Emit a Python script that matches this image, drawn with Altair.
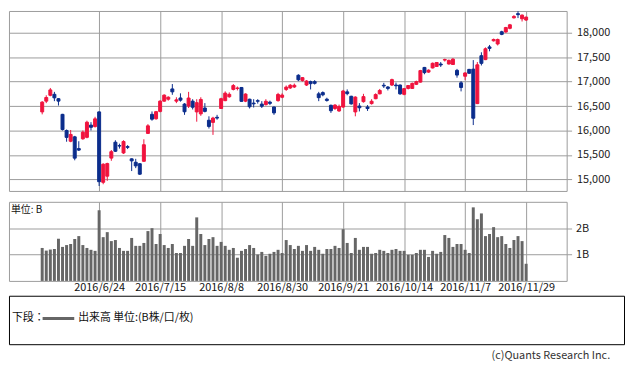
import altair as alt
import pandas as pd

# ---- data ----
dates = ["6/6","6/7","6/8","6/9","6/10","6/13","6/14","6/15","6/16","6/17","6/20","6/21","6/22","6/23","6/24",
         "6/27","6/28","6/29","6/30","7/1","7/4","7/5","7/6","7/7","7/8","7/11","7/12","7/13","7/14","7/15",
         "7/19","7/20","7/21","7/22","7/25","7/26","7/27","7/28","7/29","8/1","8/2","8/3","8/4","8/5","8/8",
         "8/9","8/10","8/12","8/15","8/16","8/17","8/18","8/19","8/22","8/23","8/24","8/25","8/26","8/29","8/30",
         "8/31","9/1","9/2","9/5","9/6","9/7","9/8","9/9","9/12","9/13","9/14","9/15","9/16","9/20","9/21",
         "9/23","9/26","9/27","9/28","9/29","9/30","10/3","10/4","10/5","10/6","10/7","10/11","10/12","10/13","10/14",
         "10/17","10/18","10/19","10/20","10/21","10/24","10/25","10/26","10/27","10/28","10/31","11/1","11/2","11/4","11/7",
         "11/8","11/9","11/10","11/11","11/14","11/15","11/16","11/17","11/18","11/21","11/22","11/24","11/25","11/28","11/29"]

opens = [16380,16600,16720,16740,16650,16330,16000,15780,15870,15630,15830,15860,16110,16080,16380,
         14940,15065,15435,15760,15690,15540,15670,15420,15350,15320,15370,15940,16330,16240,16390,
         16600,16640,16850,16600,16665,16540,16500,16600,16380,16340,16460,16210,16165,16270,16450,
         16610,16690,16840,16860,16880,16600,16640,16560,16610,16540,16530,16580,16480,16610,16680,
         16840,16870,16890,17130,17020,16930,17000,17000,16750,16775,16640,16515,16450,16400,16480,
         16790,16700,16380,16500,16590,16480,16550,16650,16750,16925,16890,16930,16930,16930,16740,
         16860,16860,16945,16990,17290,17195,17280,17310,17360,17440,17360,17350,17230,16975,17110,
         17250,17255,16550,17530,17450,17710,17835,17770,18020,18015,18090,18305,18390,18285,18260]
highs = [16600,16720,16870,16790,16660,16340,16020,16010,15890,15780,16000,16200,16170,16280,16390,
         15330,15340,15600,15800,15730,15800,15700,15430,15420,15330,15820,16130,16390,16400,16620,
         16740,16700,16950,16680,16760,16560,16790,16640,16640,16680,16560,16290,16280,16320,16670,
         16800,16780,16950,16900,16890,16760,16650,16640,16640,16600,16640,16610,16490,16770,16760,
         16920,16950,16960,17150,17090,17030,17020,17030,16790,16800,16670,16530,16540,16530,16830,
         16840,16710,16700,16560,16750,16520,16640,16760,16850,16975,16910,17060,16980,16940,16870,
         16930,16980,17020,17240,17300,17250,17390,17400,17400,17470,17450,17480,17260,17010,17190,
         17260,17440,17400,17600,17700,17750,17880,17880,18040,18120,18180,18360,18440,18375,18330]
lows = [16330,16560,16700,16600,16510,16000,15770,15760,15390,15580,15810,15840,16000,16060,14864,
        14900,14970,15380,15560,15630,15520,15620,15170,15230,15090,15360,15930,16200,16220,16370,
        16590,16610,16730,16560,16590,16320,16460,16430,16180,16300,16370,16040,15910,16220,16440,
        16600,16670,16820,16820,16590,16580,16450,16470,16550,16460,16510,16520,16320,16590,16660,
        16810,16850,16870,17010,17000,16910,16840,16940,16600,16700,16590,16360,16420,16380,16460,
        16720,16530,16290,16390,16570,16400,16530,16640,16740,16870,16820,16910,16840,16730,16720,
        16840,16850,16930,16980,17150,17180,17270,17300,17300,17410,17350,17340,17080,16800,17030,
        17160,16111,16540,17330,17440,17620,17820,17740,17950,18000,18070,18290,18300,18230,18240]
closes = [16580,16675,16830,16668,16601,16019,15859,15919,15434,15599,15965,16169,16065,16238,14952,
          15309,15323,15566,15575,15682,15775,15655,15378,15276,15106,15708,16095,16231,16385,16600,
          16723,16681,16790,16627,16620,16383,16664,16476,16569,16635,16391,16083,16254,16254,16650,
          16764,16740,16919,16869,16596,16745,16486,16545,16598,16497,16597,16555,16360,16737,16725,
          16887,16926,16925,17037,17081,17012,16958,16965,16672,16729,16614,16405,16519,16492,16807,
          16754,16544,16683,16465,16693,16449,16598,16735,16819,16910,16860,17040,16915,16750,16856,
          16920,16963,17000,17225,17184,17234,17375,17391,17340,17452,17435,17460,17134,16880,17177,
          17171,16251,17344,17374,17672,17680,17862,17862,17967,18106,18162,18333,18370,18360,18320]
volumes = [1.25,1.15,1.19,1.21,1.60,1.29,1.36,1.40,1.59,1.70,
           1.36,1.25,1.18,1.14,2.68,1.66,1.85,1.51,1.55,1.25,
           1.14,1.14,1.63,1.33,1.33,1.44,1.89,2.00,1.40,1.78,
           1.36,1.25,1.40,1.06,1.06,1.33,1.59,1.33,2.41,1.78,
           1.36,1.59,1.66,1.33,1.48,1.33,1.18,1.25,0.88,1.14,
           1.21,1.36,1.25,1.00,1.10,0.95,1.03,1.10,1.18,1.06,
           1.55,1.36,1.21,1.33,1.14,1.36,1.14,1.29,1.18,1.03,
           1.21,1.21,1.33,1.25,1.96,1.44,1.06,1.63,1.18,1.29,
           1.29,1.03,1.06,1.18,1.14,1.06,1.18,1.21,1.14,1.14,
           0.99,0.99,1.06,1.18,1.18,0.91,1.14,1.03,1.10,1.74,
           1.63,1.29,1.40,1.40,1.18,1.06,2.79,2.34,2.56,1.70,
           1.78,2.04,1.66,1.70,1.40,1.25,1.55,1.70,1.51,0.65]
tick_labels = ["2016/6/24","2016/7/15","2016/8/8","2016/8/30","2016/9/21","2016/10/14","2016/11/7","2016/11/29"]
price_ticks = [15000,15500,16000,16500,17000,17500,18000]
vol_ticks = [1, 2]
unit_label = "単位: B"
legend_prefix = "下段："
legend_label = "出来高 単位:(B株/口/枚)"
credit = "(c)Quants Research Inc."

# ---- table ----
df = pd.DataFrame({"i": list(range(len(dates))), "date": dates, "open": opens, "high": highs,
                   "low": lows, "close": closes, "volume": volumes})
df["dir"] = ["up" if c >= o else "down" for o, c in zip(opens, closes)]
tick_idx = [dates.index(t.split("/", 1)[1]) for t in tick_labels]
label_expr = "[" + ",".join("'%s'" % t for t in tick_labels) + "][indexof(" + str(tick_idx) + ", datum.value)]"

FONT = "Noto Sans CJK JP"
GRID = "#9c9c9c"
RED = "#F0133E"
BLUE = "#0B2D8C"
W = 564

xscale = alt.Scale(domain=[-6.95, 127.75], nice=False, zero=False)
pscale = alt.Scale(domain=[14763, 18445], nice=False, zero=False)
dir_scale = alt.Scale(domain=["up", "down"], range=[RED, BLUE])

x_axis_up = alt.Axis(values=tick_idx, labels=False, ticks=False, domain=False, grid=True,
                     gridColor=GRID, title=None)
p_axis = alt.Axis(orient="right", values=price_ticks, format=",d", grid=True, gridColor=GRID,
                  domain=False, tickColor=GRID, tickSize=5, labelPadding=5, labelFont=FONT,
                  labelFontSize=11, labelColor="#1a1a1a", labelOverlap=False, title=None)

base = alt.Chart(df)
wick = base.mark_rule(strokeWidth=1).encode(
    x=alt.X("i:Q", scale=xscale, axis=x_axis_up),
    y=alt.Y("low:Q", scale=pscale, axis=p_axis), y2="high:Q",
    color=alt.Color("dir:N", scale=dir_scale, legend=None))
body = base.mark_bar(size=3, strokeWidth=1).encode(
    x=alt.X("i:Q", scale=xscale, axis=x_axis_up),
    y=alt.Y("open:Q", scale=pscale, axis=p_axis), y2="close:Q",
    color=alt.Color("dir:N", scale=dir_scale, legend=None),
    stroke=alt.Stroke("dir:N", scale=dir_scale, legend=None))
upper = alt.layer(wick, body).properties(width=W, height=182, view=alt.ViewBackground(stroke=GRID))

x_axis_vol = alt.Axis(values=tick_idx, labelExpr=label_expr, grid=True, gridColor=GRID, ticks=False,
                      domain=False, labelFont=FONT, labelFontSize=11, labelPadding=1,
                      labelColor="#111111", labelFlush=False, labelOverlap=False, title=None)
vol_bars = base.mark_bar(size=3, color="#666666").encode(
    x=alt.X("i:Q", scale=xscale, axis=x_axis_vol),
    y=alt.Y("volume:Q", scale=alt.Scale(domain=[0, 3], nice=False),
            axis=alt.Axis(orient="right", values=vol_ticks, labelExpr="datum.value + 'B'", grid=True,
                          gridColor=GRID, domain=False, tickColor=GRID, tickSize=5, labelPadding=4,
                          labelFont=FONT, labelFontSize=11, labelColor="#1a1a1a", title=None)))
unit_txt = alt.Chart(pd.DataFrame({"t": [unit_label]})).mark_text(
    align="left", baseline="middle", font=FONT, fontSize=10, color="#111111").encode(
    x=alt.value(2), y=alt.value(8), text="t:N")
volume = alt.layer(vol_bars, unit_txt).properties(width=W, height=80, view=alt.ViewBackground(stroke=GRID))

leg_df = pd.DataFrame({"a": [legend_prefix], "b": [legend_label], "c": [credit]})
lg = alt.Chart(leg_df)
t1 = lg.mark_text(align="left", baseline="middle", font=FONT, fontSize=11, color="#111111").encode(
    x=alt.value(3), y=alt.value(23), text="a:N")
ln = lg.mark_rule(color="#666666", strokeWidth=3).encode(
    x=alt.value(34), x2=alt.value(66), y=alt.value(23))
t2 = lg.mark_text(align="left", baseline="middle", font=FONT, fontSize=11, color="#111111").encode(
    x=alt.value(70), y=alt.value(23), text="b:N")
t3 = lg.mark_text(align="right", baseline="middle", font=FONT, fontSize=11, color="#333333").encode(
    x=alt.value(608), y=alt.value(61), text="c:N")
legend = alt.layer(t1, ln, t2, t3).properties(width=622, height=49,
                                               view=alt.ViewBackground(stroke="#000000", strokeWidth=1))

top = alt.vconcat(upper, volume, spacing=9)
chart = alt.vconcat(top, legend, spacing=1).properties(padding=0, background="white")

chart.save("out.html", embed_options={"renderer": "svg", "actions": False})
